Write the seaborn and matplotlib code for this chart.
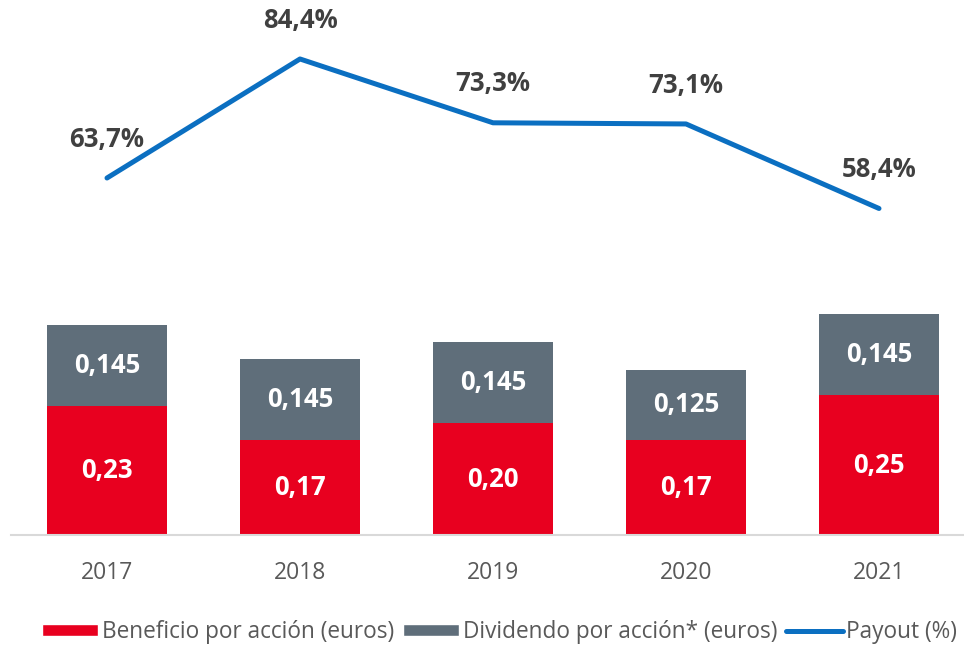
import numpy as np
import pandas as pd
import matplotlib
matplotlib.use("Agg")
import matplotlib.pyplot as plt
import seaborn as sns
from matplotlib.patches import Patch
from matplotlib.lines import Line2D

# chart data
years = ["2017", "2018", "2019", "2020", "2021"]
beneficio = [0.23, 0.17, 0.20, 0.17, 0.25]
dividendo = [0.145, 0.145, 0.145, 0.125, 0.145]
payout = [63.7, 84.4, 73.3, 73.1, 58.4]

red = "#E8001F"
gray = "#5F6E7A"
blue = "#0B6FC1"
text_gray = "#595959"


def fmt(v, dec):
    return f"{v:.{dec}f}".replace(".", ",")


sns.set_style("white")
plt.rcParams["font.family"] = ["Open Sans", "DejaVu Sans"]

df = pd.DataFrame({"year": years, "beneficio": beneficio, "dividendo": dividendo})
df["total"] = df["beneficio"] + df["dividendo"]

fig = plt.figure(figsize=(9.64, 6.46), dpi=100)
ax = fig.add_axes([10.5 / 964, 1 - 535 / 646, 965 / 964, 535 / 646])

sns.barplot(data=df, x="year", y="total", color=gray, width=0.62,
            saturation=1, linewidth=0, ax=ax)
sns.barplot(data=df, x="year", y="beneficio", color=red, width=0.62,
            saturation=1, linewidth=0, ax=ax)

ax.set_ylim(0, 535 / 560)
ax.set_xlim(-0.5, 4.5)
ax.set_xlabel("")
ax.set_ylabel("")
ax.set_yticks([])
for s in ["top", "left", "right"]:
    ax.spines[s].set_visible(False)
ax.spines["bottom"].set_color("#D9D9D9")
ax.spines["bottom"].set_linewidth(1.5)
ax.tick_params(axis="x", length=0, pad=19, labelsize=16.5, labelcolor=text_gray)

for i, (b, d) in enumerate(zip(beneficio, dividendo)):
    ax.text(i, b / 2, fmt(b, 2), ha="center", va="center", color="white",
            fontsize=18.5, fontweight="bold")
    ax.text(i, b + d / 2, fmt(d, 3), ha="center", va="center", color="white",
            fontsize=18.5, fontweight="bold")

ax2 = ax.twinx()
pos = np.arange(len(years))
sns.lineplot(x=pos, y=payout, color=blue, linewidth=3.6, ax=ax2)
ax2.set_ylim(63.7 - 357 / 5.75, 63.7 + 178 / 5.75)
ax2.set_yticks([])
ax2.set_xlim(-0.5, 4.5)
for s in ["top", "left", "right", "bottom"]:
    ax2.spines[s].set_visible(False)
for i, p in enumerate(payout):
    ax2.annotate(fmt(p, 1) + "%", (i, p), xytext=(0, 28), textcoords="offset points",
                 ha="center", va="center", fontsize=18.5, fontweight="bold",
                 color="#404040")

handles = [
    Patch(facecolor=red, label="Beneficio por acción (euros)"),
    Patch(facecolor=gray, label="Dividendo por acción* (euros)"),
    Line2D([0], [0], color=blue, linewidth=3.6, label="Payout (%)"),
]
leg = fig.legend(handles=handles, loc="center", bbox_to_anchor=(0.518, 1 - 632 / 646),
                 ncol=3, frameon=False, fontsize=16.3, handlelength=2.5,
                 handleheight=0.5, handletextpad=0.15, columnspacing=0.4)
for t in leg.get_texts():
    t.set_color(text_gray)

fig.savefig("out.png", dpi=100)
